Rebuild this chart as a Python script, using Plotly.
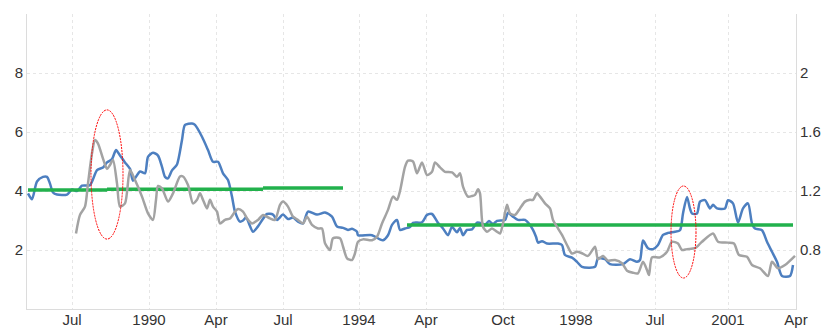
import plotly.graph_objects as go

# Period index along the horizontal axis and the tick labels shown on it
tick_pos = [11.25, 30.5, 47.25, 64, 83, 99.75, 119, 137.25, 157, 175.25, 192.25]
tick_text = ["Jul", "1990", "Apr", "Jul", "1994", "Apr", "Oct", "1998", "Jul", "2001", "Apr"]

# Blue series (left axis)
blue_t = [0.25, 1.25, 2.5, 4, 5, 5.75, 6.5, 7.5, 10, 11.25, 12.5, 13.75, 15.75, 17.5, 19, 20,
          21.25, 22.25, 23.25, 24.5, 25.75, 26.5, 28.25, 29.5, 30.25, 31.5, 32.75, 33.75, 34.5,
          35.25, 36.25, 37.5, 38.75, 39.5, 41.25, 42, 43.75, 45.25, 46.5, 47.75, 49, 50.25, 51.25,
          52, 53.25, 54, 54.75, 56.5, 57.75, 60, 61.5, 62.5, 64, 65.25, 66.5, 67.75, 69, 70.25,
          72.5, 74.5, 76.25, 77.5, 79, 80.25, 81.25, 82.5, 82.75, 86.25, 88.25, 89, 90.25, 91.25,
          92.5, 93.25, 94.5, 95.75, 96.5, 98.75, 100, 101.25, 102.75, 104, 105.25, 106.25, 107.5,
          108.25, 109, 110, 111.25, 112.5, 113.75, 114.5, 115.5, 116.5, 117.5, 119.5, 120.25,
          121.5, 122.75, 124.5, 125.75, 126.5, 127.25, 127.75, 128.75, 130, 132.75, 133.75, 134.5,
          136.25, 137.5, 138.75, 142, 142.75, 144.5, 145.75, 149, 150.75, 152.5, 153.25, 154,
          155.25, 156.5, 157.75, 159, 160.25, 162, 163.25, 164, 165, 165.75, 166.25, 167.5, 168.25,
          169.5, 170.75, 171.5, 172.5, 174.5, 175.25, 176.5, 177.75, 179, 180.25, 181.25, 182,
          183.75, 185, 186.25, 187.5, 188.75, 190.75, 191.5]
blue_v = [3.92, 3.72, 4.32, 4.48, 4.48, 4.25, 3.95, 3.88, 3.88, 4.05, 4.0, 4.18, 4.2, 4.71, 4.8,
          4.97, 5.08, 5.39, 5.2, 4.97, 4.75, 4.35, 4.66, 4.6, 5.16, 5.3, 5.2, 4.82, 4.48, 4.43, 4.7,
          4.9, 5.73, 6.24, 6.29, 6.24, 5.84, 5.39, 4.99, 4.99, 4.6, 4.37, 3.81, 3.3, 2.96, 3.0, 3.1,
          2.62, 2.8, 3.22, 3.2, 3.02, 3.2, 3.05, 3.1, 2.96, 2.9, 3.3, 3.2, 3.27, 3.13, 2.8, 2.75,
          2.68, 2.72, 2.62, 2.5, 2.5, 2.36, 2.33, 2.5, 2.85, 3.02, 2.68, 2.73, 2.78, 2.92, 2.94,
          3.19, 3.22, 2.92, 2.73, 2.5, 2.78, 2.6, 2.75, 2.5, 2.68, 2.7, 2.93, 2.9, 2.85, 2.98, 2.88,
          2.99, 3.02, 3.26, 3.13, 3.02, 3.02, 2.85, 2.68, 2.45, 2.25, 2.3, 2.22, 2.22, 2.17, 1.83,
          1.74, 1.6, 1.43, 1.43, 1.72, 1.69, 1.52, 1.52, 1.69, 1.6, 1.66, 2.32, 2.06, 2.03, 2.17,
          2.51, 2.58, 2.62, 2.67, 3.24, 3.8, 3.4, 3.24, 3.24, 3.64, 3.69, 3.41, 3.53, 3.41, 3.41,
          3.69, 3.58, 2.93, 3.41, 3.58, 2.9, 2.73, 2.67, 2.28, 1.94, 1.6, 1.12, 1.12, 1.49]

# Gray series (right axis)
gray_t = [12.25, 13.25, 14.5, 15.25, 16.25, 17, 17.75, 19, 20, 20.75, 21.5, 22.5, 23.25, 24.5,
          25.75, 27, 28.75, 30.25, 31.5, 32.25, 32.75, 33.75, 35.25, 36.5, 38.25, 39, 40.25, 41.5,
          42.5, 43.25, 44, 45, 45.75, 46.5, 47.5, 48.25, 49.5, 50.75, 52, 52.75, 54, 55, 56.25,
          57.75, 59, 60.75, 62, 63.25, 64, 65.25, 66.5, 67.75, 69, 70, 71.25, 72.75, 73.75, 74.5,
          75.75, 76.5, 78.25, 79, 80, 81.25, 82, 82.75, 84, 86.25, 87.5, 88.75, 90.25, 91.5, 92.5,
          93.25, 94.5, 95.25, 96.5, 97.5, 98.75, 100, 101.25, 102, 103.25, 104.5, 106.25, 107.5,
          108.25, 109, 110.25, 111.25, 112, 112.75, 113.25, 114, 115, 116.25, 117.5, 118.25, 119,
          120, 120.75, 122, 123.25, 124.5, 125.75, 126.5, 127.5, 128.25, 129.5, 130.75, 131.5,
          132.75, 133.75, 135, 136.25, 137.5, 138.75, 140.25, 142, 142.75, 144, 145.25, 147,
          148.75, 150, 151.5, 152.75, 154, 155, 155.5, 156.25, 158.25, 160, 161.25, 162.75, 163.75,
          165, 167, 168.75, 171.5, 172.75, 175.25, 176.75, 178, 180, 181.25, 183.25, 185.25,
          186.25, 187.75, 189.5, 192]
gray_v = [0.912, 1.038, 1.094, 1.252, 1.456, 1.546, 1.522, 1.42, 1.35, 1.376, 1.41, 1.252, 1.094,
          1.116, 1.342, 1.274, 1.162, 1.048, 1.004, 1.14, 1.234, 1.218, 1.128, 1.184, 1.298, 1.298,
          1.24, 1.116, 1.14, 1.184, 1.14, 1.082, 1.14, 1.094, 1.06, 0.98, 1.004, 1.014, 1.06, 1.078,
          1.06, 1.014, 0.98, 1.004, 1.038, 1.014, 1.004, 1.106, 1.128, 1.094, 1.026, 1.004, 0.98,
          1.026, 0.97, 0.946, 0.946, 0.846, 0.8, 0.88, 0.88, 0.824, 0.744, 0.732, 0.778, 0.856,
          0.872, 0.866, 0.89, 0.98, 1.072, 1.162, 1.14, 1.2, 1.364, 1.406, 1.4, 1.32, 1.394, 1.308,
          1.33, 1.394, 1.36, 1.33, 1.326, 1.296, 1.32, 1.23, 1.162, 1.166, 1.174, 1.212, 1.184,
          0.958, 0.924, 0.946, 0.924, 0.912, 0.98, 1.106, 1.048, 1.038, 1.082, 1.128, 1.14, 1.14,
          1.184, 1.162, 1.116, 1.082, 1.004, 0.946, 0.902, 0.834, 0.776, 0.788, 0.778, 0.76, 0.822,
          0.738, 0.76, 0.728, 0.732, 0.71, 0.66, 0.646, 0.642, 0.72, 0.664, 0.63, 0.75, 0.75, 0.788,
          0.856, 0.844, 0.8, 0.806, 0.812, 0.856, 0.912, 0.856, 0.85, 0.844, 0.766, 0.754, 0.698,
          0.676, 0.624, 0.72, 0.676, 0.698, 0.76]

# Green average levels (left axis), one entry per segment
avg_start = [0.25, 20, 59, 95]
avg_end = [20, 59, 79, 191.5]
avg_level = [4.03, 4.06, 4.10, 2.85]

# Highlighted regions: (t0, t1, low, high) on the left axis
highlights = [(16, 24, 2.37, 6.75), (161, 167.25, 1.05, 4.17)]

green_x, green_y = [], []
for s, e, lv in zip(avg_start, avg_end, avg_level):
    green_x += [s, e, None]
    green_y += [lv, lv, None]

fig = go.Figure()
fig.add_trace(go.Scatter(x=gray_t, y=gray_v, mode="lines", yaxis="y2",
                         line=dict(color="#a3a3a3", width=2.5, shape="spline", smoothing=0.7),
                         hoverinfo="skip"))
fig.add_trace(go.Scatter(x=blue_t, y=blue_v, mode="lines",
                         line=dict(color="#4d7fc0", width=2.5, shape="spline", smoothing=0.7),
                         hoverinfo="skip"))
fig.add_trace(go.Scatter(x=green_x, y=green_y, mode="lines",
                         line=dict(color="#22b14c", width=3.5), hoverinfo="skip"))

for t0, t1, lo, hi in highlights:
    fig.add_shape(type="circle", xref="x", yref="y", x0=t0, x1=t1, y0=lo, y1=hi,
                  line=dict(color="#ff0000", width=1, dash="2px,1px"))

tick_font = dict(family="Liberation Sans, Arial", size=15, color="#333333")
grid_col = "#e6e6e6"

fig.update_layout(
    width=834, height=333,
    margin=dict(l=27, r=38, t=14, b=24, autoexpand=False),
    paper_bgcolor="white", plot_bgcolor="white",
    showlegend=False,
    xaxis=dict(range=[0, 192.25], tickvals=tick_pos, ticktext=tick_text, tickfont=tick_font,
               showgrid=True, gridcolor=grid_col, griddash="dot", gridwidth=1,
               showline=True, linecolor="#dcdcdc", linewidth=1, zeroline=False, ticks="",
               ticklabelstandoff=-3, automargin=False),
    yaxis=dict(range=[0, 10], tickvals=[2, 4, 6, 8, 10], ticktext=["2", "4", "6", "8", ""],
               tickfont=tick_font, showgrid=True, gridcolor=grid_col, griddash="dot",
               showline=True, linecolor="#dcdcdc", linewidth=1, zeroline=False, ticks="",
               automargin=False),
    yaxis2=dict(range=[0.4, 2.4], overlaying="y", side="right",
                tickvals=[0.8, 1.2, 1.6, 2.0], ticktext=["0.8", "1.2", "1.6", "2"],
                tickfont=tick_font, showgrid=False, showline=True, linecolor="#dcdcdc",
                linewidth=1, zeroline=False, ticks="", automargin=False),
)

fig.write_html("out.html")
